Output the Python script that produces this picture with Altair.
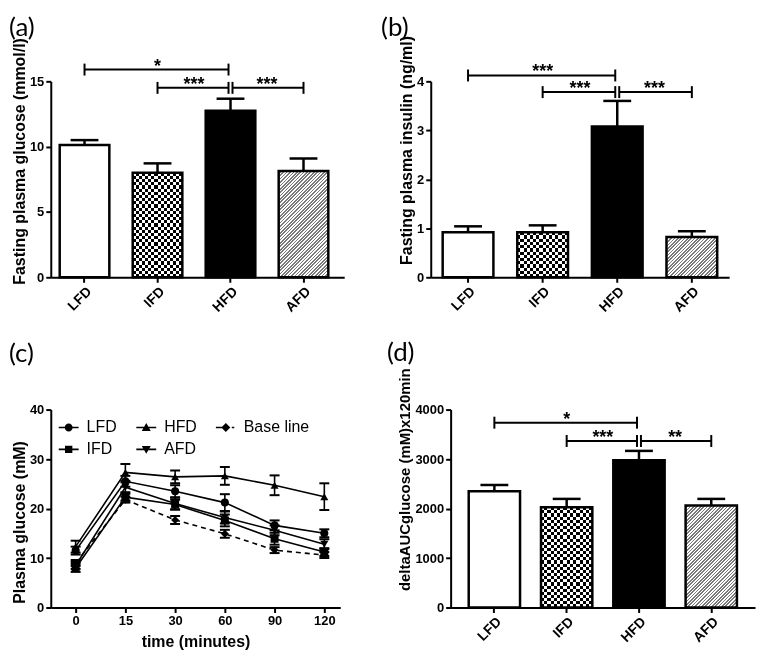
import math
import altair as alt
import pandas as pd

FONT = "Liberation Sans"
LETTER_FONT = "Lato"

groups = ["LFD", "IFD", "HFD", "AFD"]

# (a) fasting plasma glucose (mmol/l)
glucose_mean = [10.13, 8.0, 12.74, 8.13]
glucose_sem = [0.37, 0.72, 0.93, 0.97]
# (b) fasting plasma insulin (ng/ml)
insulin_mean = [0.92, 0.92, 3.08, 0.82]
insulin_sem = [0.12, 0.14, 0.52, 0.12]
# (d) AUC glucose
auc_mean = [2349, 2028, 2978, 2060]
auc_sem = [127, 167, 187, 135]

# significance brackets
bracket_from = ["LFD", "IFD", "HFD"]
bracket_to = ["HFD", "HFD", "AFD"]
glucose_bracket_y = [15.9, 14.5, 14.5]
glucose_bracket_label = ["*", "***", "***"]
insulin_bracket_y = [4.12, 3.78, 3.78]
insulin_bracket_label = ["***", "***", "***"]
auc_bracket_y = [3735, 3365, 3365]
auc_bracket_label = ["*", "***", "**"]

# (c) glucose tolerance test
times = [0, 15, 30, 60, 90, 120]
series = ["LFD", "IFD", "HFD", "AFD", "Base line"]
series_shapes = ["circle", "square", "triangle-up", "triangle-down", "diamond"]
lfd_mean = [11.5, 25.5, 23.5, 21.2, 16.6, 15.0]
lfd_sem = [0.8, 1.1, 1.2, 1.7, 1.0, 0.8]
ifd_mean = [8.0, 22.3, 20.8, 17.6, 13.9, 11.2]
ifd_sem = [0.8, 0.7, 1.0, 1.2, 1.2, 0.8]
hfd_mean = [12.3, 27.3, 26.4, 26.6, 24.7, 22.4]
hfd_sem = [1.2, 1.7, 1.3, 1.8, 2.0, 2.7]
afd_mean = [8.5, 24.3, 21.0, 18.2, 15.6, 12.8]
afd_sem = [0.7, 1.0, 1.2, 1.2, 1.0, 1.0]
base_mean = [9.0, 21.8, 17.7, 14.9, 11.6, 10.6]
base_sem = [0.6, 0.6, 0.8, 0.8, 0.6, 0.6]


def stripe_stops(n, colors):
    stops = []
    for i in range(n):
        c = colors[i % 2]
        stops.append({"offset": round(i / n, 6), "color": c})
        stops.append({"offset": round((i + 1) / n, 6), "color": c})
    return stops


def linear_fill(x2, y2, stops):
    return {"gradient": "linear", "x1": 0, "y1": 0, "x2": x2, "y2": y2, "stops": stops}


def hatch_fill(w, h, period):
    k = (w + h) / (w * w + h * h)
    n = max(2, int(round(2 * (w + h) / (math.sqrt(2) * period))))
    return linear_fill(k * w, k * h, stripe_stops(n, ["white", "#7a7a7a"]))


def letter_title(text, dx, toff):
    return alt.TitleParams(text=text, anchor="start", frame="group", dx=dx, offset=toff,
                           baseline="alphabetic", font=LETTER_FONT, fontSize=26,
                           fontWeight="normal", color="black")


def bar_panel(letter, means, sems, br_y, br_lab, ytitle, ymax, yticks,
              W, H, pi, po, align, dx, toff, title_y, title_size=16):
    n = len(groups)
    step = W / (n - pi + 2 * po)
    bw = step * (1 - pi)
    heights = {g: m / ymax * H for g, m in zip(groups, means)}

    df = pd.DataFrame({"group": groups, "mean": means,
                       "upper": [m + s for m, s in zip(means, sems)]})
    xs = alt.Scale(domain=groups, paddingInner=pi, paddingOuter=po, align=align)
    ys = alt.Scale(domain=[0, ymax], nice=False)
    X = alt.X("group:N", scale=xs, sort=groups,
              axis=alt.Axis(title=None, labelAngle=-45, labelFontSize=14))
    Y = alt.Y("mean:Q", scale=ys, title=ytitle,
              axis=alt.Axis(values=yticks, format="d", titleY=title_y,
                            titleFontSize=title_size))
    base = alt.Chart(df).encode(x=X, y=Y)

    def only(g):
        return base.transform_filter(alt.datum.group == g)

    cell = 3.2
    ifd_v = linear_fill(1, 0, stripe_stops(max(2, int(round(bw / cell))), ["white", "black"]))
    ifd_h = linear_fill(0, 1, stripe_stops(max(2, int(round(heights["IFD"] / cell))),
                                           ["rgba(255,255,255,0)", "white"]))
    afd_fill = hatch_fill(bw, heights["AFD"], 2.4)

    bars = alt.layer(
        only("LFD").mark_bar(fill="white"),
        only("HFD").mark_bar(fill="black"),
        only("IFD").mark_bar(fill=ifd_v),
        only("IFD").mark_bar(fill=ifd_h, blend="difference"),
        only("AFD").mark_bar(fill=afd_fill),
        base.mark_bar(fillOpacity=0, stroke="black", strokeWidth=2.5),
        base.mark_rule(color="black", strokeWidth=2.5).encode(y2="upper:Q"),
        base.mark_tick(color="black", thickness=2.5, size=28, opacity=1).encode(
            y=alt.Y("upper:Q", scale=ys, title=ytitle)),
    )

    c0 = step * 2 * po * align + bw / 2
    idx_scale = alt.Scale(domain=[-c0 / step, (W - c0) / step], nice=False, zero=False)
    fi = [groups.index(g) for g in bracket_from]
    ti = [groups.index(g) for g in bracket_to]
    bdf = pd.DataFrame({"from": bracket_from, "to": bracket_to, "y": br_y, "label": br_lab,
                        "fi": fi, "ti": ti, "mid": [(a + b) / 2 for a, b in zip(fi, ti)]})
    bb = alt.Chart(bdf)
    BY = alt.Y("y:Q", scale=ys, title=ytitle)

    def BX(f):
        return alt.X(f"{f}:Q", scale=idx_scale, axis=None)

    rule_kw = dict(color="black", strokeWidth=2)
    cap_kw = dict(shape="M0,-1L0,1", size=144, strokeWidth=2, color="black",
                  filled=False, opacity=1)
    brackets = alt.layer(
        bb.transform_filter("datum.to == 'HFD'").mark_rule(x2Offset=-2, **rule_kw).encode(
            x=BX("fi"), x2="ti:Q", y=BY),
        bb.transform_filter("datum.from == 'HFD'").mark_rule(xOffset=2, **rule_kw).encode(
            x=BX("fi"), x2="ti:Q", y=BY),
        bb.transform_filter("datum.from != 'HFD' && datum.to != 'HFD'").mark_rule(**rule_kw).encode(
            x=BX("fi"), x2="ti:Q", y=BY),
        bb.transform_filter("datum.from != 'HFD'").mark_point(**cap_kw).encode(x=BX("fi"), y=BY),
        bb.transform_filter("datum.from == 'HFD'").mark_point(xOffset=2, **cap_kw).encode(
            x=BX("fi"), y=BY),
        bb.transform_filter("datum.to != 'HFD'").mark_point(**cap_kw).encode(x=BX("ti"), y=BY),
        bb.transform_filter("datum.to == 'HFD'").mark_point(xOffset=-2, **cap_kw).encode(
            x=BX("ti"), y=BY),
        bb.mark_text(baseline="alphabetic", dy=2, fontSize=18, fontWeight="bold", font=FONT,
                     color="black").encode(x=BX("mid"), y=BY, text="label:N"),
    )

    return alt.layer(bars, brackets).resolve_scale(x="independent").properties(
        width=W, height=H, title=letter_title(letter, dx, toff))


def line_panel(W, H, dx, toff, title_y):
    means = [lfd_mean, ifd_mean, hfd_mean, afd_mean, base_mean]
    sems = [lfd_sem, ifd_sem, hfd_sem, afd_sem, base_sem]
    rows = []
    for s, ms, es in zip(series, means, sems):
        for t, m, e in zip(times, ms, es):
            rows.append({"series": s, "time": t, "mean": m, "lo": m - e, "hi": m + e})
    df = pd.DataFrame(rows)

    ys = alt.Scale(domain=[0, 40], nice=False)
    ytitle = "Plasma glucose (mM)"
    X = alt.X("time:O", sort=times, scale=alt.Scale(type="point", padding=0.41, align=0.61),
              axis=alt.Axis(labelAngle=0, title="time (minutes)", titlePadding=6))
    Y = alt.Y("mean:Q", scale=ys, title=ytitle,
              axis=alt.Axis(values=[0, 10, 20, 30, 40], titleY=title_y))
    base = alt.Chart(df).encode(x=X)

    bar_ = "M-1,-0.08H1V0.08H-1Z"
    legend_paths = [
        bar_ + "M-0.4,0A0.4,0.4 0 1,1 0.4,0A0.4,0.4 0 1,1 -0.4,0Z",
        bar_ + "M-0.37,-0.37H0.37V0.37H-0.37Z",
        bar_ + "M0,-0.45L0.45,0.35H-0.45Z",
        bar_ + "M0,0.45L-0.45,-0.35H0.45Z",
        "M-1,-0.08H-0.4V0.08H-1Z" + "M0,-0.45L0.45,0L0,0.45L-0.45,0Z" + "M0.6,-0.08H0.85V0.08H0.6Z",
    ]
    legend_shape = alt.Shape(
        "entry:N",
        scale=alt.Scale(domain=series, range=legend_paths),
        legend=alt.Legend(title=None, orient="top-left", columns=3, symbolSize=400,
                          labelFontSize=16, labelFont=FONT, labelFontWeight="normal",
                          labelColor="black", columnPadding=19, rowPadding=4, labelOffset=8,
                          offset=8, padding=0, labelLimit=200, symbolStrokeWidth=0,
                          symbolFillColor="black", symbolOpacity=1),
    )

    point_layers = [
        base.transform_filter(alt.datum.series == s).mark_point(
            shape=shp, filled=True, color="black", opacity=1, size=65).encode(y=Y)
        for s, shp in zip(series, series_shapes)
    ]

    layers = alt.layer(
        base.transform_filter("datum.series != 'Base line'").mark_line(
            color="black", strokeWidth=1.6).encode(y=Y, detail="series:N"),
        base.transform_filter("datum.series == 'Base line'").mark_line(
            color="black", strokeWidth=1.6, strokeDash=[5, 4]).encode(y=Y),
        base.mark_rule(color="black", strokeWidth=1.6).encode(
            y=alt.Y("lo:Q", scale=ys, title=ytitle), y2="hi:Q"),
        base.mark_tick(color="black", thickness=2, size=10, opacity=1).encode(
            y=alt.Y("lo:Q", scale=ys, title=ytitle)),
        base.mark_tick(color="black", thickness=2, size=10, opacity=1).encode(
            y=alt.Y("hi:Q", scale=ys, title=ytitle)),
        *point_layers,
        base.transform_filter("false").transform_calculate(entry="datum.series").mark_point(
            filled=True, color="black", opacity=1).encode(y=Y, shape=legend_shape),
    )

    return layers.properties(width=W, height=H, title=letter_title("(c)", dx, toff))


pa = bar_panel("(a)", glucose_mean, glucose_sem, glucose_bracket_y, glucose_bracket_label,
               "Fasting plasma glucose (mmol/l)", 15, [0, 5, 10, 15],
               295, 197, 0.32, 0.17, 0.36, -42, -24.5, 80)
pb = bar_panel("(b)", insulin_mean, insulin_sem, insulin_bracket_y, insulin_bracket_label,
               "Fasting plasma insulin (ng/ml)", 4, [0, 1, 2, 3, 4],
               300, 197, 0.32, 0.16, 0.5, -50, -27, 69)
pc = line_panel(291, 199, -42, 16, 113)
pd_ = bar_panel("(d)", auc_mean, auc_sem, auc_bracket_y, auc_bracket_label,
                "deltaAUCglucose (mM)x120min", 4000, [0, 1000, 2000, 3000, 4000],
                306, 199, 0.29, 0.25, 0.5, -64, -19, 70, title_size=15)

row1 = alt.hconcat(pa, pb, spacing=87, bounds="flush")
row2 = alt.hconcat(pc, pd_, spacing=111, bounds="flush").resolve_scale(
    shape="independent").resolve_legend(shape="independent")

chart = alt.vconcat(row1, row2, spacing=330, bounds="flush").resolve_scale(
    shape="independent").resolve_legend(shape="independent").properties(
    padding={"top": 4, "left": 0, "right": 0, "bottom": 0}, background="white"
).configure_view(stroke="transparent").configure_axis(
    domainColor="black", domainWidth=2, tickColor="black", tickWidth=2, tickSize=5,
    labelFont=FONT, labelFontWeight="bold", labelFontSize=13, labelColor="black",
    labelPadding=2, titleFont=FONT, titleFontWeight="bold", titleFontSize=16,
    titleColor="black", titlePadding=2, grid=False,
)

chart.save("out.html", embed_options={"renderer": "svg", "actions": False})
